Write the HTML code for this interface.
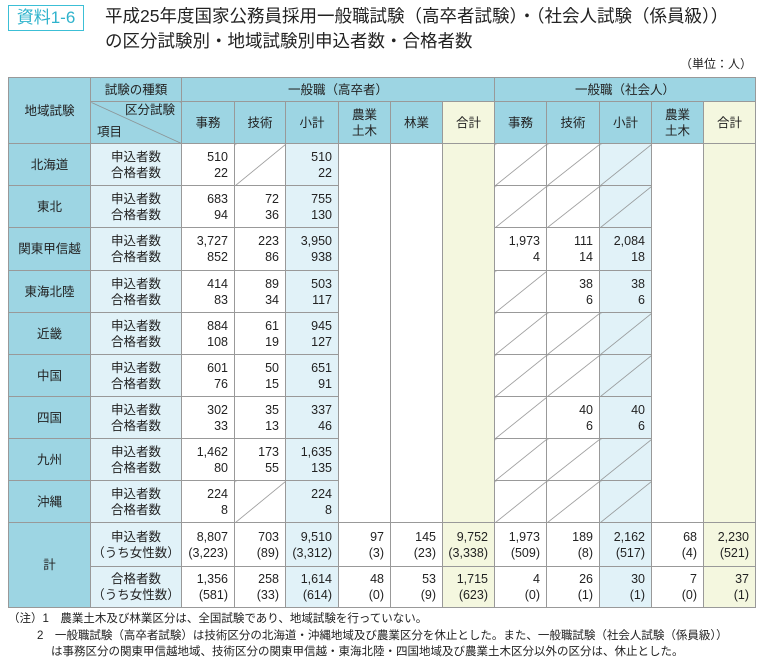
<!DOCTYPE html>
<html><head><meta charset="utf-8"><style>
body{margin:0;width:760px;height:664px;background:#fff;font-family:"Liberation Sans","Noto Sans CJK JP",sans-serif;color:#222;position:relative;overflow:hidden}
.tag{position:absolute;left:8px;top:5px;width:74px;height:24px;border:1.5px solid #3cbfd6;color:#2fb3cc;font-size:17px;line-height:24px;text-align:center}
.title{position:absolute;left:105px;top:4px;font-size:17.5px;line-height:25px;color:#222}
.unit{position:absolute;right:8px;top:55px;font-size:12px}
table{position:absolute;left:8px;top:77px;border-collapse:collapse;table-layout:fixed;font-size:12.5px}
td{border:1px solid #999;padding:0;text-align:center;line-height:16px}
.h{background:#9dd5e3}
.ib{background:#e1f2f8}
.y{background:#f4f7df}
.n{text-align:right;padding-right:6px}
.s{background-image:linear-gradient(to bottom right,transparent calc(50% - 0.7px),#888 50%,transparent calc(50% + 0.7px))}
.notes{position:absolute;left:8px;top:611px;font-size:11.5px;line-height:16.5px}
</style></head><body>
<div class="tag">資料1-6</div>
<div class="title">平成25年度国家公務員採用一般職試験（高卒者試験）・（社会人試験（係員級））<br>の区分試験別・地域試験別申込者数・合格者数</div>
<div class="unit">（単位：人）</div>
<table>
<colgroup><col style="width:82px"><col style="width:91px"><col style="width:53px"><col style="width:51px"><col style="width:53px"><col style="width:52px"><col style="width:52px"><col style="width:52px"><col style="width:52px"><col style="width:53px"><col style="width:52px"><col style="width:52px"><col style="width:52px"></colgroup>
<tr style="height:24px"><td class="h" rowspan="2">地域試験</td><td class="h">試験の種類</td><td class="h" colspan="6">一般職（高卒者）</td><td class="h" colspan="5">一般職（社会人）</td></tr>
<tr style="height:42px"><td class="h" style="background-image:linear-gradient(to top right,transparent calc(50% - 0.7px),#888 50%,transparent calc(50% + 0.7px));background-color:#9dd5e3"><div style="text-align:right;padding-right:6px;margin-top:-4px">区分試験</div><div style="text-align:left;padding-left:6px;margin-top:6px">項目</div></td><td class="h">事務</td><td class="h">技術</td><td class="h">小計</td><td class="h">農業<br>土木</td><td class="h">林業</td><td class="h y">合計</td><td class="h">事務</td><td class="h">技術</td><td class="h">小計</td><td class="h">農業<br>土木</td><td class="h y">合計</td></tr>

<tr style="height:42px"><td class="h">北海道</td><td class="ib">申込者数<br>合格者数</td><td class="n">510<br>22</td><td class="s"></td><td class="n ib">510<br>22</td><td rowspan="9"></td><td rowspan="9"></td><td rowspan="9" class="y"></td><td class="s"></td><td class="s"></td><td class="s ib"></td><td rowspan="9"></td><td rowspan="9" class="y"></td></tr>
<tr style="height:42px"><td class="h">東北</td><td class="ib">申込者数<br>合格者数</td><td class="n">683<br>94</td><td class="n">72<br>36</td><td class="n ib">755<br>130</td><td class="s"></td><td class="s"></td><td class="s ib"></td></tr>
<tr style="height:43px"><td class="h">関東甲信越</td><td class="ib">申込者数<br>合格者数</td><td class="n">3,727<br>852</td><td class="n">223<br>86</td><td class="n ib">3,950<br>938</td><td class="n">1,973<br>4</td><td class="n">111<br>14</td><td class="n ib">2,084<br>18</td></tr>
<tr style="height:42px"><td class="h">東海北陸</td><td class="ib">申込者数<br>合格者数</td><td class="n">414<br>83</td><td class="n">89<br>34</td><td class="n ib">503<br>117</td><td class="s"></td><td class="n">38<br>6</td><td class="n ib">38<br>6</td></tr>
<tr style="height:42px"><td class="h">近畿</td><td class="ib">申込者数<br>合格者数</td><td class="n">884<br>108</td><td class="n">61<br>19</td><td class="n ib">945<br>127</td><td class="s"></td><td class="s"></td><td class="s ib"></td></tr>
<tr style="height:42px"><td class="h">中国</td><td class="ib">申込者数<br>合格者数</td><td class="n">601<br>76</td><td class="n">50<br>15</td><td class="n ib">651<br>91</td><td class="s"></td><td class="s"></td><td class="s ib"></td></tr>
<tr style="height:42px"><td class="h">四国</td><td class="ib">申込者数<br>合格者数</td><td class="n">302<br>33</td><td class="n">35<br>13</td><td class="n ib">337<br>46</td><td class="s"></td><td class="n">40<br>6</td><td class="n ib">40<br>6</td></tr>
<tr style="height:42px"><td class="h">九州</td><td class="ib">申込者数<br>合格者数</td><td class="n">1,462<br>80</td><td class="n">173<br>55</td><td class="n ib">1,635<br>135</td><td class="s"></td><td class="s"></td><td class="s ib"></td></tr>
<tr style="height:42px"><td class="h">沖縄</td><td class="ib">申込者数<br>合格者数</td><td class="n">224<br>8</td><td class="s"></td><td class="n ib">224<br>8</td><td class="s"></td><td class="s"></td><td class="s ib"></td></tr>

<tr style="height:44px"><td class="h" rowspan="2">計</td><td class="ib">申込者数<br>（うち女性数）</td><td class="n">8,807<br>(3,223)</td><td class="n">703<br>(89)</td><td class="n ib">9,510<br>(3,312)</td><td class="n">97<br>(3)</td><td class="n">145<br>(23)</td><td class="n y">9,752<br>(3,338)</td><td class="n">1,973<br>(509)</td><td class="n">189<br>(8)</td><td class="n ib">2,162<br>(517)</td><td class="n">68<br>(4)</td><td class="n y">2,230<br>(521)</td></tr>
<tr style="height:41px"><td class="ib">合格者数<br>（うち女性数）</td><td class="n">1,356<br>(581)</td><td class="n">258<br>(33)</td><td class="n ib">1,614<br>(614)</td><td class="n">48<br>(0)</td><td class="n">53<br>(9)</td><td class="n y">1,715<br>(623)</td><td class="n">4<br>(0)</td><td class="n">26<br>(1)</td><td class="n ib">30<br>(1)</td><td class="n">7<br>(0)</td><td class="n y">37<br>(1)</td></tr>
</table>
<div class="notes">（注）1　農業土木及び林業区分は、全国試験であり、地域試験を行っていない。<br>
<span style="padding-left:29px">2　一般職試験（高卒者試験）は技術区分の北海道・沖縄地域及び農業区分を休止とした。また、一般職試験（社会人試験（係員級））</span><br>
<span style="padding-left:43px">は事務区分の関東甲信越地域、技術区分の関東甲信越・東海北陸・四国地域及び農業土木区分以外の区分は、休止とした。</span></div>
</body></html>
